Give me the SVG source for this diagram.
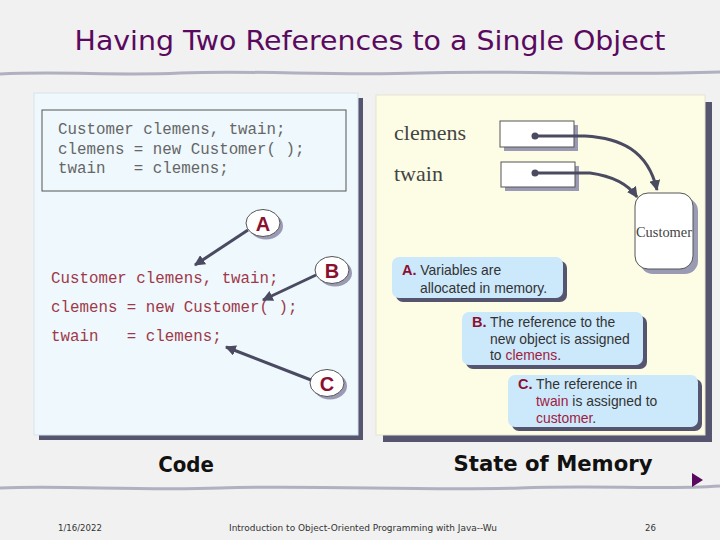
<svg xmlns="http://www.w3.org/2000/svg" width="720" height="540" viewBox="0 0 720 540">
<defs>
<style>
.bg{fill:#f1f1f1}
.shadow{fill:#555570}
.mono{font-family:"Liberation Mono","DejaVu Sans Mono",monospace;font-size:15.8px;white-space:pre}
.code1{fill:#666666}
.code2{fill:#a03848}
.ser{font-family:"Liberation Serif","DejaVu Serif",serif;fill:#444444}
.sans{font-family:"Liberation Sans","DejaVu Sans",sans-serif;font-size:13.9px;fill:#333333}
.lab{font-family:"Liberation Sans",sans-serif;font-weight:bold;fill:#8b1030}
.red{fill:#a02040}
.callout{fill:#cce8fb}
.cshadow{fill:#555570}
.conn{stroke:#4a4a60;stroke-width:3;fill:none}
.wave{fill:none;stroke:#b0b0c0;stroke-width:3}
</style>
<marker id="ah" viewBox="0 0 10 10" refX="9" refY="5" markerWidth="3.6" markerHeight="3.6" orient="auto">
<path d="M0,0 L10,5 L0,10 z" fill="#4a4a60"/>
</marker>
</defs>
<rect class="bg" x="0" y="0" width="720" height="540"/>
<g id="title">
<text x="370" y="50" text-anchor="middle" font-family="'DejaVu Sans',sans-serif" font-size="27" fill="#5a0a5e" textLength="591" lengthAdjust="spacingAndGlyphs">Having Two References to a Single Object</text>
</g>
<path class="wave" d="M0,74 C60,71 120,76 180,73 C260,70 330,76 420,73 C520,70 600,76 720,72"/>
<path class="wave" d="M0,488 C60,485 140,491 220,488 C320,485 420,491 520,488 C600,485 660,490 720,486"/>

<g id="code-panel">
<rect class="shadow" x="39" y="98" width="324" height="342"/>
<rect x="34" y="93" width="324" height="342" fill="#eef8fd" stroke="#d8e4ea" stroke-width="1"/>
</g>
<g id="code-box">
<rect x="42" y="110" width="304" height="81" fill="#eef8fd" stroke="#555555" stroke-width="1"/>
<text class="mono code1" x="58" y="134" xml:space="preserve">Customer clemens, twain;</text>
<text class="mono code1" x="58" y="154" xml:space="preserve">clemens = new Customer( );</text>
<text class="mono code1" x="58" y="173" xml:space="preserve">twain   = clemens;</text>
</g>
<g id="code-lines">
<text class="mono code2" x="51" y="283" xml:space="preserve">Customer clemens, twain;</text>
<text class="mono code2" x="51" y="312" xml:space="preserve">clemens = new Customer( );</text>
<text class="mono code2" x="51" y="341" xml:space="preserve">twain   = clemens;</text>
</g>

<g id="memory-panel">
<rect class="shadow" x="383" y="102" width="329" height="340"/>
<rect x="376" y="95" width="329" height="340" fill="#fdfde6" stroke="#e4e4d0" stroke-width="1"/>
<text class="ser" x="394" y="140" font-size="22">clemens</text>
<text class="ser" x="394" y="181" font-size="22">twain</text>
</g>
<g id="clemens-box">
<rect x="504" y="125" width="74" height="26" fill="#9a9ab4"/>
<rect x="500" y="121" width="74" height="26" fill="#ffffff" stroke="#555555" stroke-width="1"/>
<circle cx="535" cy="136" r="3.5" fill="#4a4a60"/>
</g>
<g id="twain-box">
<rect x="505" y="166" width="74" height="25" fill="#9a9ab4"/>
<rect x="501" y="162" width="74" height="25" fill="#ffffff" stroke="#555555" stroke-width="1"/>
<circle cx="535" cy="173" r="3.5" fill="#4a4a60"/>
</g>
<g id="customer-obj">
<rect x="640" y="198" width="58" height="76" rx="13" fill="#9a9ab4"/>
<rect x="635" y="193" width="58" height="76" rx="13" fill="#ffffff" stroke="#555555" stroke-width="1"/>
<text class="ser" x="664" y="237" font-size="14.5" text-anchor="middle" textLength="56" lengthAdjust="spacingAndGlyphs">Customer</text>
</g>

<g id="callout-A">
<rect class="cshadow" x="396" y="261" width="171" height="41" rx="7"/>
<rect class="callout" x="392" y="257" width="171" height="41" rx="7"/>
<text class="sans" x="402" y="275"><tspan class="lab" font-size="14.5">A.</tspan> Variables are</text>
<text class="sans" x="420" y="293">allocated in memory.</text>
</g>
<g id="callout-B">
<rect class="cshadow" x="466" y="316" width="181" height="53" rx="7"/>
<rect class="callout" x="462" y="312" width="181" height="53" rx="7"/>
<text class="sans" x="472" y="327"><tspan class="lab" font-size="14.5">B.</tspan> The reference to the</text>
<text class="sans" x="490" y="344">new object is assigned</text>
<text class="sans" x="490" y="360">to <tspan class="red">clemens</tspan>.</text>
</g>
<g id="callout-C">
<rect class="cshadow" x="512" y="379" width="190" height="52" rx="7"/>
<rect class="callout" x="508" y="375" width="190" height="52" rx="7"/>
<text class="sans" x="518" y="389"><tspan class="lab" font-size="14.5">C.</tspan> The reference in</text>
<text class="sans" x="536" y="406"><tspan class="red">twain</tspan> is assigned to</text>
<text class="sans" x="536" y="423"><tspan class="red">customer</tspan>.</text>
</g>

<g id="label-A">
<ellipse cx="266" cy="226" rx="17" ry="13.5" fill="#9a9ab4"/>
<ellipse cx="263" cy="223" rx="17" ry="13.5" fill="#ffffff" stroke="#555555" stroke-width="1"/>
<text class="lab" x="263" y="231" font-size="20" text-anchor="middle">A</text>
</g>
<g id="label-B">
<ellipse cx="335" cy="273" rx="17" ry="13.5" fill="#9a9ab4"/>
<ellipse cx="332" cy="270" rx="17" ry="13.5" fill="#ffffff" stroke="#555555" stroke-width="1"/>
<text class="lab" x="332" y="278" font-size="20" text-anchor="middle">B</text>
</g>
<g id="label-C">
<ellipse cx="330" cy="386" rx="17" ry="13.5" fill="#9a9ab4"/>
<ellipse cx="327" cy="383" rx="17" ry="13.5" fill="#ffffff" stroke="#555555" stroke-width="1"/>
<text class="lab" x="327" y="391" font-size="20" text-anchor="middle">C</text>
</g>

<g id="connectors">
<path class="conn" d="M535,136 L585,136 C620,138 648,150 657,190" marker-end="url(#ah)"/>
<path class="conn" d="M535,173 L590,173 C612,176 628,184 637,197" marker-end="url(#ah)"/>
<path class="conn" d="M248,230 L195,265" marker-end="url(#ah)"/>
<path class="conn" d="M316,275 L263,300" marker-end="url(#ah)"/>
<path class="conn" d="M311,380 L226,347" marker-end="url(#ah)"/>
</g>

<g id="captions">
<text x="186" y="472" font-family="'DejaVu Sans Condensed','DejaVu Sans',sans-serif" font-weight="bold" font-size="22" fill="#111111" text-anchor="middle">Code</text>
<text x="553" y="471" font-family="'DejaVu Sans Condensed','DejaVu Sans',sans-serif" font-weight="bold" font-size="22" fill="#111111" text-anchor="middle" textLength="199" lengthAdjust="spacingAndGlyphs">State of Memory</text>
<path d="M692,473 L703,480 L692,487 z" fill="#5a0a5e"/>
</g>
<g id="footer" font-family="'DejaVu Sans Condensed','DejaVu Sans',sans-serif" font-size="9.5" fill="#333333">
<text x="58" y="531">1/16/2022</text>
<text x="363" y="531" text-anchor="middle" textLength="268" lengthAdjust="spacingAndGlyphs">Introduction to Object-Oriented Programming with Java--Wu</text>
<text x="645" y="531">26</text>
</g>
</svg>
